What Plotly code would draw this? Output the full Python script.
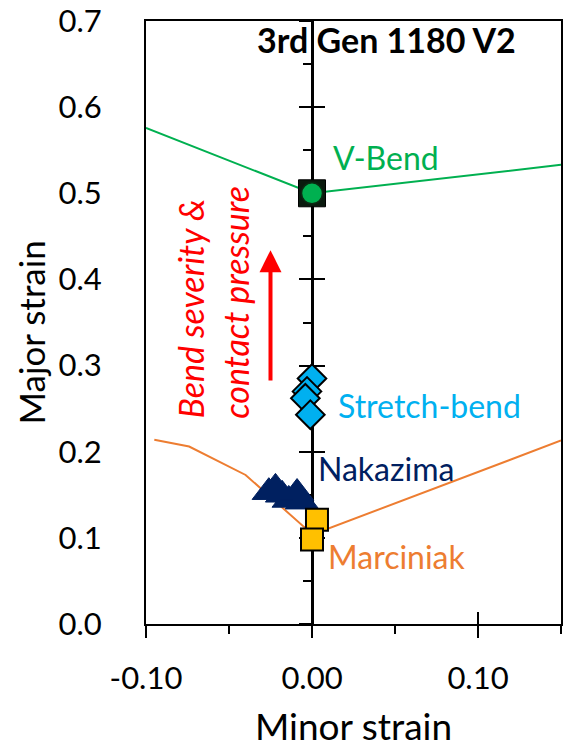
import plotly.graph_objects as go

# Forming-limit curves (minor strain, major strain)
vbend_curve_x = [-0.10, 0.0, 0.15]
vbend_curve_y = [0.576, 0.500, 0.533]
marc_curve_x = [-0.095, -0.074, -0.040, -0.005, 0.006, 0.15]
marc_curve_y = [0.214, 0.206, 0.173, 0.113, 0.108, 0.213]

# Measured limit strains per test
vbend_x = [0.0]
vbend_y = [0.500]
stretch_x = [0.0, -0.003, -0.004, -0.001]
stretch_y = [0.285, 0.270, 0.262, 0.243]
nakazima_x = [-0.026, -0.022, -0.018, -0.014, -0.009, -0.006]
nakazima_y = [0.153, 0.158, 0.150, 0.144, 0.152, 0.142]
marciniak_x = [0.003, 0.0]
marciniak_y = [0.121, 0.098]

x_range = [-0.10, 0.15]
y_range = [0.0, 0.70]
x_ticks = [-0.10, 0.00, 0.10]
x_ticktext = ["-0.10", "0.00", "0.10"]
y_ticks = [0.0, 0.1, 0.2, 0.3, 0.4, 0.5, 0.6, 0.7]
y_ticktext = ["0.0", "0.1", "0.2", "0.3", "0.4", "0.5", "0.6", "0.7"]

GREEN = "#00B050"
ORANGE = "#ED7D31"
NAVY = "#002060"
CYAN = "#00B0F0"
GOLD = "#FFC000"
RED = "#FF0000"
FONT = "Lato"

fig = go.Figure()

# empty traces so the overlay axes (cross ticks, centre axis) are rendered
fig.add_trace(go.Scatter(x=[], y=[], xaxis="x2", yaxis="y", showlegend=False, hoverinfo="skip"))
fig.add_trace(go.Scatter(x=[], y=[], xaxis="x", yaxis="y2", showlegend=False, hoverinfo="skip"))
fig.add_trace(go.Scatter(x=[], y=[], xaxis="x", yaxis="y3", showlegend=False, hoverinfo="skip"))

fig.add_trace(go.Scatter(x=vbend_curve_x, y=vbend_curve_y, mode="lines",
                         line=dict(color=GREEN, width=2), showlegend=False))
fig.add_trace(go.Scatter(x=marc_curve_x, y=marc_curve_y, mode="lines",
                         line=dict(color=ORANGE, width=2), showlegend=False))

fig.add_trace(go.Scatter(x=vbend_x, y=vbend_y, mode="markers", showlegend=False,
                         marker=dict(symbol="square", size=27, color="#0a1a0e",
                                     line=dict(color="#000000", width=1))))
fig.add_trace(go.Scatter(x=vbend_x, y=vbend_y, mode="markers", showlegend=False,
                         marker=dict(symbol="circle", size=21, color=GREEN,
                                     line=dict(color="#0a2a12", width=1.5))))
fig.add_trace(go.Scatter(x=stretch_x, y=stretch_y, mode="markers", showlegend=False,
                         marker=dict(symbol="diamond", size=22, color=CYAN,
                                     line=dict(color="#000000", width=2))))
fig.add_trace(go.Scatter(x=nakazima_x, y=nakazima_y, mode="markers", showlegend=False,
                         marker=dict(symbol="triangle-up", size=29, color=NAVY,
                                     line=dict(color=NAVY, width=1))))
fig.add_trace(go.Scatter(x=marciniak_x, y=marciniak_y, mode="markers", showlegend=False,
                         marker=dict(symbol="square", size=22, color=GOLD,
                                     line=dict(color="#000000", width=2))))

label_font = dict(family=FONT, size=32)
annotations = [
    dict(x=0.045, y=0.678, text="<b>3rd Gen 1180 V2</b>", showarrow=False,
         xanchor="center", yanchor="middle", font=dict(family=FONT, size=34, color="#000000")),
    dict(x=0.0116, y=0.542, text="V-Bend", showarrow=False, xanchor="left", yanchor="middle",
         font=dict(label_font, color=GREEN)),
    dict(x=0.0147, y=0.254, text="Stretch-bend", showarrow=False, xanchor="left", yanchor="middle",
         font=dict(label_font, color=CYAN)),
    dict(x=0.0026, y=0.181, text="Nakazima", showarrow=False, xanchor="left", yanchor="middle",
         font=dict(label_font, color=NAVY)),
    dict(x=0.0086, y=0.078, text="Marciniak", showarrow=False, xanchor="left", yanchor="middle",
         font=dict(label_font, color=ORANGE)),
    dict(x=-0.073, y=0.236, text="<i>Bend severity &amp;</i>", showarrow=False, textangle=-90,
         xanchor="center", yanchor="bottom", font=dict(family=FONT, size=34, color=RED)),
    dict(x=-0.046, y=0.236, text="<i>contact pressure</i>", showarrow=False, textangle=-90,
         xanchor="center", yanchor="bottom", font=dict(family=FONT, size=34, color=RED)),
    # trend arrow
    dict(x=-0.025, y=0.434, ax=-0.025, ay=0.281, axref="x", ayref="y", xref="x", yref="y",
         text="", showarrow=True, arrowhead=2, arrowsize=1.1, arrowwidth=4, arrowcolor=RED),
    # vertical axis title
    dict(x=-0.278, y=0.483, xref="paper", yref="paper", text="Major strain", showarrow=False,
         textangle=-90, xanchor="center", yanchor="middle",
         font=dict(family=FONT, size=35, color="#000000")),
]

fig.update_layout(
    width=564, height=748,
    margin=dict(l=146, r=1, t=21, b=124),
    paper_bgcolor="white", plot_bgcolor="white",
    font=dict(family=FONT, color="#000000"),
    annotations=annotations,
    xaxis=dict(range=x_range, tickmode="array", tickvals=x_ticks, ticktext=x_ticktext,
               showgrid=False, zeroline=False, showline=True, linecolor="#000000", linewidth=2,
               mirror=True, ticks="outside", ticklen=12, tickwidth=2, tickcolor="#000000",
               minor=dict(dtick=0.05, ticks="outside", ticklen=8, tickwidth=2, tickcolor="#000000"),
               tickfont=dict(family=FONT, size=31), ticklabelstandoff=14,
               title=dict(text="Minor strain", font=dict(family=FONT, size=37), standoff=24)),
    xaxis2=dict(range=x_range, overlaying="x", anchor="y", side="bottom", tickmode="array",
                tickvals=x_ticks, showticklabels=False, showgrid=False, zeroline=False,
                showline=False, ticks="inside", ticklen=12, tickwidth=2, tickcolor="#000000"),
    yaxis=dict(range=y_range, tickmode="array", tickvals=y_ticks, ticktext=y_ticktext,
               showgrid=False, zeroline=False, showline=True, linecolor="#000000", linewidth=2,
               mirror=True, ticks="", tickfont=dict(family=FONT, size=31), ticklabelstandoff=36),
    yaxis2=dict(range=y_range, overlaying="y", anchor="free", position=0.4, side="left",
                tickmode="array", tickvals=y_ticks, showticklabels=False, showgrid=False,
                zeroline=False, showline=True, linecolor="#000000", linewidth=2.5,
                ticks="outside", ticklen=12, tickwidth=2, tickcolor="#000000",
                minor=dict(dtick=0.05, ticks="outside", ticklen=8, tickwidth=2, tickcolor="#000000"),
                layer="below traces"),
    yaxis3=dict(range=y_range, overlaying="y", anchor="free", position=0.4, side="left",
                tickmode="array", tickvals=y_ticks, showticklabels=False, showgrid=False,
                zeroline=False, showline=False, ticks="inside", ticklen=12, tickwidth=2,
                tickcolor="#000000", layer="below traces"),
)

fig.write_html("out.html")
